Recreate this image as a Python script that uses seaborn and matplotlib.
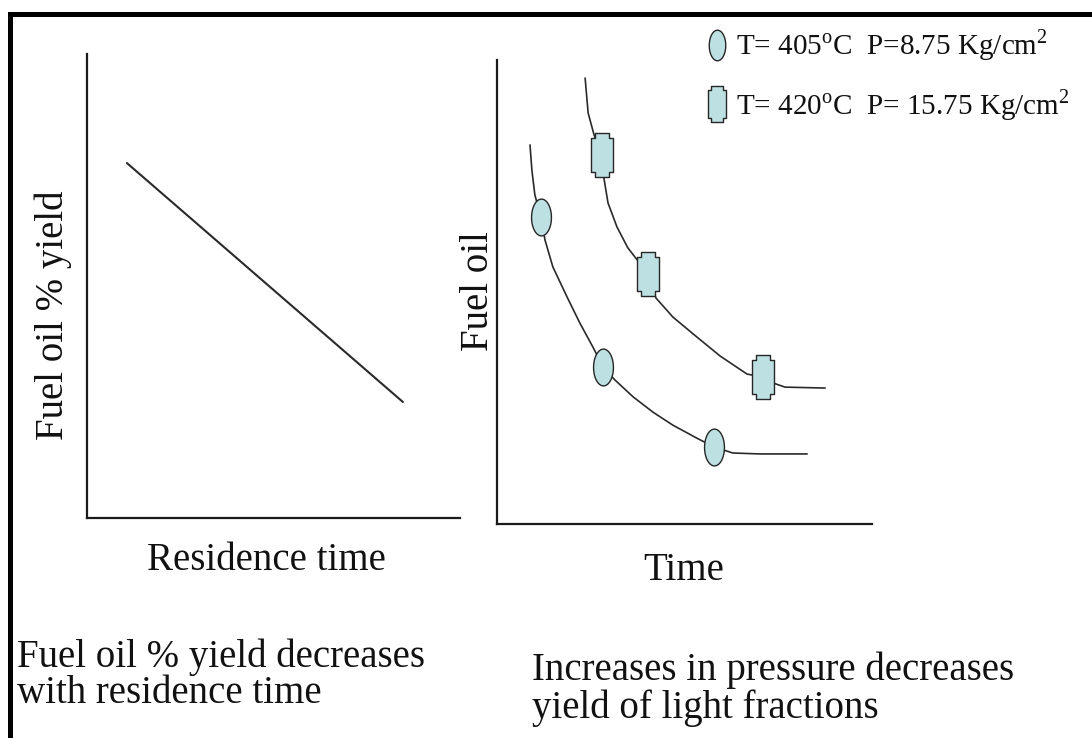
import numpy as np
import seaborn as sns
import matplotlib.pyplot as plt
from matplotlib.path import Path
from matplotlib.lines import Line2D
from matplotlib.patches import Rectangle

sns.set_theme(style="white")
plt.rcParams["font.family"] = ["Liberation Serif", "DejaVu Serif"]
plt.rcParams["text.color"] = "#111111"

# left panel: straight decline of yield with residence time
res_time = [1.07, 8.47]
res_yield = [7.65, 2.50]

# right panel: two decay curves
low_t = [0.88, 0.93, 1.01, 1.17, 1.28, 1.49, 1.87, 2.21, 2.56, 2.83, 3.15, 3.63,
         4.16, 4.69, 5.33, 5.79, 6.29, 7.01, 8.27]
low_y = [8.17, 7.63, 7.09, 6.62, 6.12, 5.54, 4.89, 4.33, 3.81, 3.38, 3.10, 2.74,
         2.41, 2.13, 1.85, 1.66, 1.53, 1.51, 1.51]
high_t = [2.35, 2.43, 2.59, 2.80, 2.85, 2.96, 3.20, 3.49, 4.03, 4.24, 4.69, 5.33,
          5.95, 6.67, 7.09, 7.36, 7.68, 8.75]
high_y = [9.61, 8.86, 8.38, 7.95, 7.46, 6.92, 6.40, 5.95, 5.39, 4.87, 4.46, 4.03,
          3.62, 3.23, 3.17, 3.04, 2.95, 2.93]

# measured points on each curve
low_pts_t = [1.17, 2.83, 5.79]
low_pts_y = [6.62, 3.38, 1.66]
high_pts_t = [2.80, 4.03, 7.09]
high_pts_y = [7.95, 5.39, 3.17]

labels = ["T= 405$^\\mathregular{o}$C  P=8.75 Kg/cm$^\\mathregular{2}$",
          "T= 420$^\\mathregular{o}$C  P= 15.75 Kg/cm$^\\mathregular{2}$"]

fill = "#bde0e3"
edge = "#262626"
line_c = "#2a2a2a"

# marker shapes
t = np.linspace(0, 2 * np.pi, 64)
ellipse = Path(np.column_stack([0.54 * np.cos(t), np.sin(t)]), closed=True)
notched = Path([(-0.33, 1), (0.33, 1), (0.33, 0.8), (0.49, 0.8), (0.49, -0.8),
                (0.33, -0.8), (0.33, -1), (-0.33, -1), (-0.33, -0.8), (-0.49, -0.8),
                (-0.49, 0.8), (-0.33, 0.8), (-0.33, 1)], closed=True)

W, H = 1092, 738
fig = plt.figure(figsize=(W / 100, H / 100), dpi=100)

def px_box(x0, x1, ytop, ybot):
    return [x0 / W, 1 - ybot / H, (x1 - x0) / W, (ybot - ytop) / H]

ax1 = fig.add_axes(px_box(87, 460, 54, 518))
ax2 = fig.add_axes(px_box(497, 872, 60, 524))

for ax in (ax1, ax2):
    ax.set_xlim(0, 10)
    ax.set_ylim(0, 10)
    ax.set_xticks([])
    ax.set_yticks([])
    sns.despine(ax=ax)
    for s in ("left", "bottom"):
        ax.spines[s].set_linewidth(1.6)
        ax.spines[s].set_color("#1a1a1a")

sns.lineplot(x=res_time, y=res_yield, ax=ax1, color=line_c, linewidth=1.5)

sns.lineplot(x=low_t, y=low_y, ax=ax2, sort=False, estimator=None,
             color=line_c, linewidth=1.2)
sns.lineplot(x=high_t, y=high_y, ax=ax2, sort=False, estimator=None,
             color=line_c, linewidth=1.2)
ax2.plot(low_pts_t, low_pts_y, linestyle="none", marker=ellipse, markersize=26.5,
         markerfacecolor=fill, markeredgecolor=edge, markeredgewidth=1.0, zorder=5)
ax2.plot(high_pts_t, high_pts_y, linestyle="none", marker=notched, markersize=31,
         markerfacecolor=fill, markeredgecolor=edge, markeredgewidth=1.0, zorder=5)

handles = [Line2D([], [], linestyle="none", marker=ellipse, markersize=22,
                  markerfacecolor=fill, markeredgecolor=edge, markeredgewidth=1.0),
           Line2D([], [], linestyle="none", marker=notched, markersize=26,
                  markerfacecolor=fill, markeredgecolor=edge, markeredgewidth=1.0)]
fig.legend(handles, labels, loc="upper left", bbox_to_anchor=(688 / W, 1 - 13 / H),
           frameon=False, fontsize=21, borderpad=0, handlelength=1.0,
           handletextpad=0.15, labelspacing=0.8)

big = 28
fig.text(266 / W, 1 - 570 / H, "Residence time", fontsize=big, ha="center", va="baseline")
fig.text(684 / W, 1 - 580 / H, "Time", fontsize=big, ha="center", va="baseline")
fig.text(63 / W, 1 - 315 / H, "Fuel oil % yield", fontsize=big, rotation=90,
         rotation_mode="anchor", ha="center", va="baseline")
fig.text(488 / W, 1 - 291 / H, "Fuel oil", fontsize=big, rotation=90,
         rotation_mode="anchor", ha="center", va="baseline")

fig.text(17 / W, 1 - 667 / H, "Fuel oil % yield decreases", fontsize=big, va="baseline")
fig.text(17 / W, 1 - 703 / H, "with residence time", fontsize=big, va="baseline")
fig.text(532 / W, 1 - 680 / H, "Increases in pressure decreases", fontsize=big, va="baseline")
fig.text(532 / W, 1 - 718 / H, "yield of light fractions", fontsize=big, va="baseline")

# outer frame (right and bottom edges run off the image)
fig.patches.append(Rectangle((9.5 / W, -0.2), 1.5, 1.2 - 13.5 / H, transform=fig.transFigure,
                             fill=False, edgecolor="black", linewidth=3.6))

fig.savefig("out.png", dpi=100)
